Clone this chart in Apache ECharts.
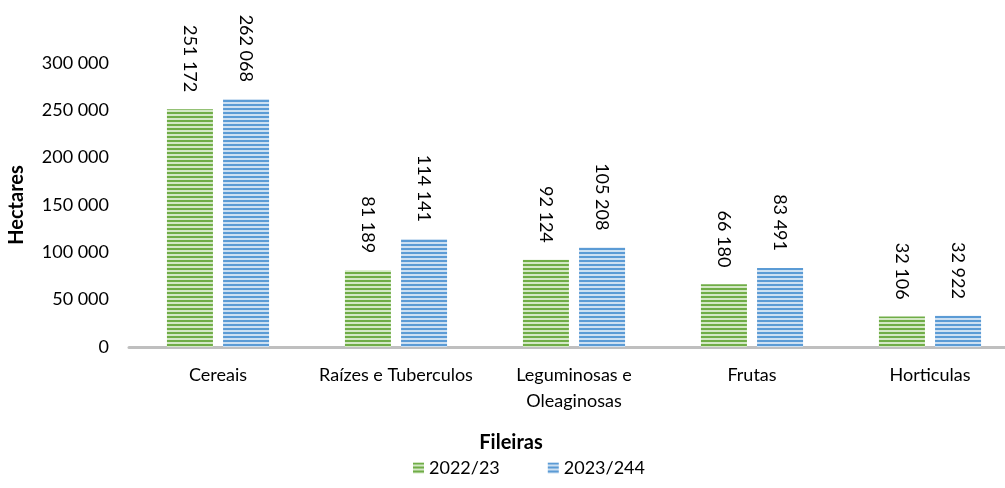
<!DOCTYPE html>
<html>
<head>
<meta charset="utf-8">
<script src="https://cdn.jsdelivr.net/npm/echarts@6/dist/echarts.min.js"></script>
<style>
  html, body { margin: 0; padding: 0; background: #fff; }
  #chart { width: 1005px; height: 488px; }
</style>
</head>
<body>
<div id="chart"></div>
<script>
const categories = ['Cereais', 'Raízes e Tuberculos', 'Leguminosas e\nOleaginosas', 'Frutas', 'Horticulas'];
const values2022 = [251172, 81189, 92124, 66180, 32106];
const values2023 = [262068, 114141, 105208, 83491, 32922];
const seriesNames = ['2022/23', '2023/244'];

// horizontal stripe fill, like the original bars
function stripes(dark, light) {
    const c = document.createElement('canvas');
    c.width = 4; c.height = 4;
    const ctx = c.getContext('2d');
    ctx.fillStyle = light;
    ctx.fillRect(0, 0, 4, 4);
    ctx.fillStyle = dark;
    ctx.fillRect(0, 0, 4, 2);
    return { image: c, repeat: 'repeat' };
}

const fmt = v => String(v).replace(/\B(?=(\d{3})+(?!\d))/g, ' ');
const font = 'Lato, "Liberation Sans", sans-serif';

const chart = echarts.init(document.getElementById('chart'));
const labelOpt = {
    show: true,
    position: 'top',
    rotate: -90,
    align: 'right',
    verticalAlign: 'middle',
    distance: 17,
    color: '#000',
    fontSize: 18,
    fontFamily: font,
    formatter: p => fmt(p.value)
};
const option = {
    animation: false,
    textStyle: { fontFamily: font },
    grid: { left: 129, top: 63, width: 890, height: 284, outerBoundsMode: 'none', containLabel: false },
    legend: {
        bottom: 6,
        left: 408,
        itemWidth: 11,
        itemHeight: 11,
        itemGap: 48,
        itemStyle: { borderWidth: 0 },
        icon: 'rect',
        textStyle: { fontSize: 18, color: '#000', fontFamily: font },
        data: seriesNames
    },
    xAxis: {
        type: 'category',
        data: categories,
        name: 'Fileiras',
        nameLocation: 'middle',
        nameGap: 86,
        nameTextStyle: { fontSize: 20, fontWeight: 'bold', color: '#000', padding: [0, 126, 0, 0] },
        axisLine: { lineStyle: { color: '#bfbfbf', width: 3 } },
        axisTick: { show: false },
        axisLabel: { fontSize: 18, color: '#000', margin: 15, lineHeight: 26, interval: 0 }
    },
    yAxis: {
        type: 'value',
        min: 0,
        max: 300000,
        interval: 50000,
        name: 'Hectares',
        nameLocation: 'middle',
        nameGap: 102,
        nameTextStyle: { fontSize: 20, fontWeight: 'bold', color: '#000' },
        axisLine: { show: false },
        axisTick: { show: false },
        splitLine: { show: false },
        axisLabel: { fontSize: 18, color: '#000', margin: 20, formatter: v => fmt(v) }
    },
    series: [
        {
            name: seriesNames[0], type: 'bar', data: values2022,
            barWidth: 46, barGap: '22%',
            itemStyle: { color: stripes('#70ad47', '#d4e8c6') },
            label: labelOpt
        },
        {
            name: seriesNames[1], type: 'bar', data: values2023,
            barWidth: 46,
            itemStyle: { color: stripes('#5b9bd5', '#cde0f2') },
            label: labelOpt
        }
    ]
};
chart.setOption(option);
window.addEventListener('resize', () => chart.resize());
</script>
</body>
</html>
